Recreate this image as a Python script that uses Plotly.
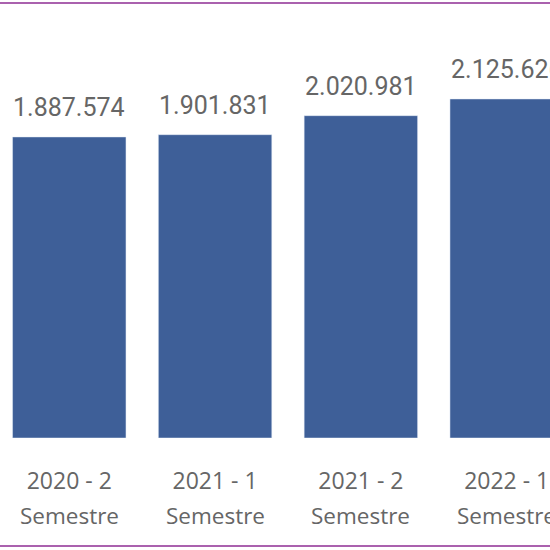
import plotly.graph_objects as go

periods = ["2020 - 2", "2021 - 1", "2021 - 2", "2022 - 1"]
period_suffix = ["Semestre", "Semestre", "Semestre", "Semestre"]
values = [1887574, 1901831, 2020981, 2125626]
labels = ["1.887.574", "1.901.831", "2.020.981", "2.125.626"]

BAR = "#3E5F98"
GREY = "#666666"

fig = go.Figure(go.Bar(x=periods, y=values, marker_color=BAR, width=0.778,
                       hoverinfo="skip"))

for c, v, t, s in zip(periods, values, labels, period_suffix):
    fig.add_annotation(x=c, y=v, text=t, showarrow=False, yanchor="bottom", yshift=13,
                       font=dict(family="Roboto", size=25, color=GREY))
    fig.add_annotation(x=c, y=0, text=s, showarrow=False, yanchor="top", yshift=-60,
                       font=dict(family="Open Sans", size=22.5, color=GREY))

top, bottom = 40, 112
H = 550 - top - bottom
fig.update_layout(
    width=550, height=550,
    margin=dict(l=0, r=0, t=top, b=bottom, autoexpand=False),
    plot_bgcolor="white", paper_bgcolor="white",
    showlegend=False,
    xaxis=dict(range=[-0.475, 3.297], showgrid=False, zeroline=False, showline=False,
               automargin=False, ticklabeloverflow="allow",
               ticks="outside", ticklen=22, tickcolor="rgba(0,0,0,0)",
               tickfont=dict(family="Open Sans", size=23, color=GREY)),
    yaxis=dict(range=[0, 6270 * H], visible=False, automargin=False),
)

for yp in [(438 - 3) / H, (438 - 546) / H]:
    fig.add_shape(type="line", xref="paper", yref="paper", x0=0, x1=1, y0=yp, y1=yp,
                  line=dict(color="#8E2C93", width=1.5))

fig.write_html("out.html")
